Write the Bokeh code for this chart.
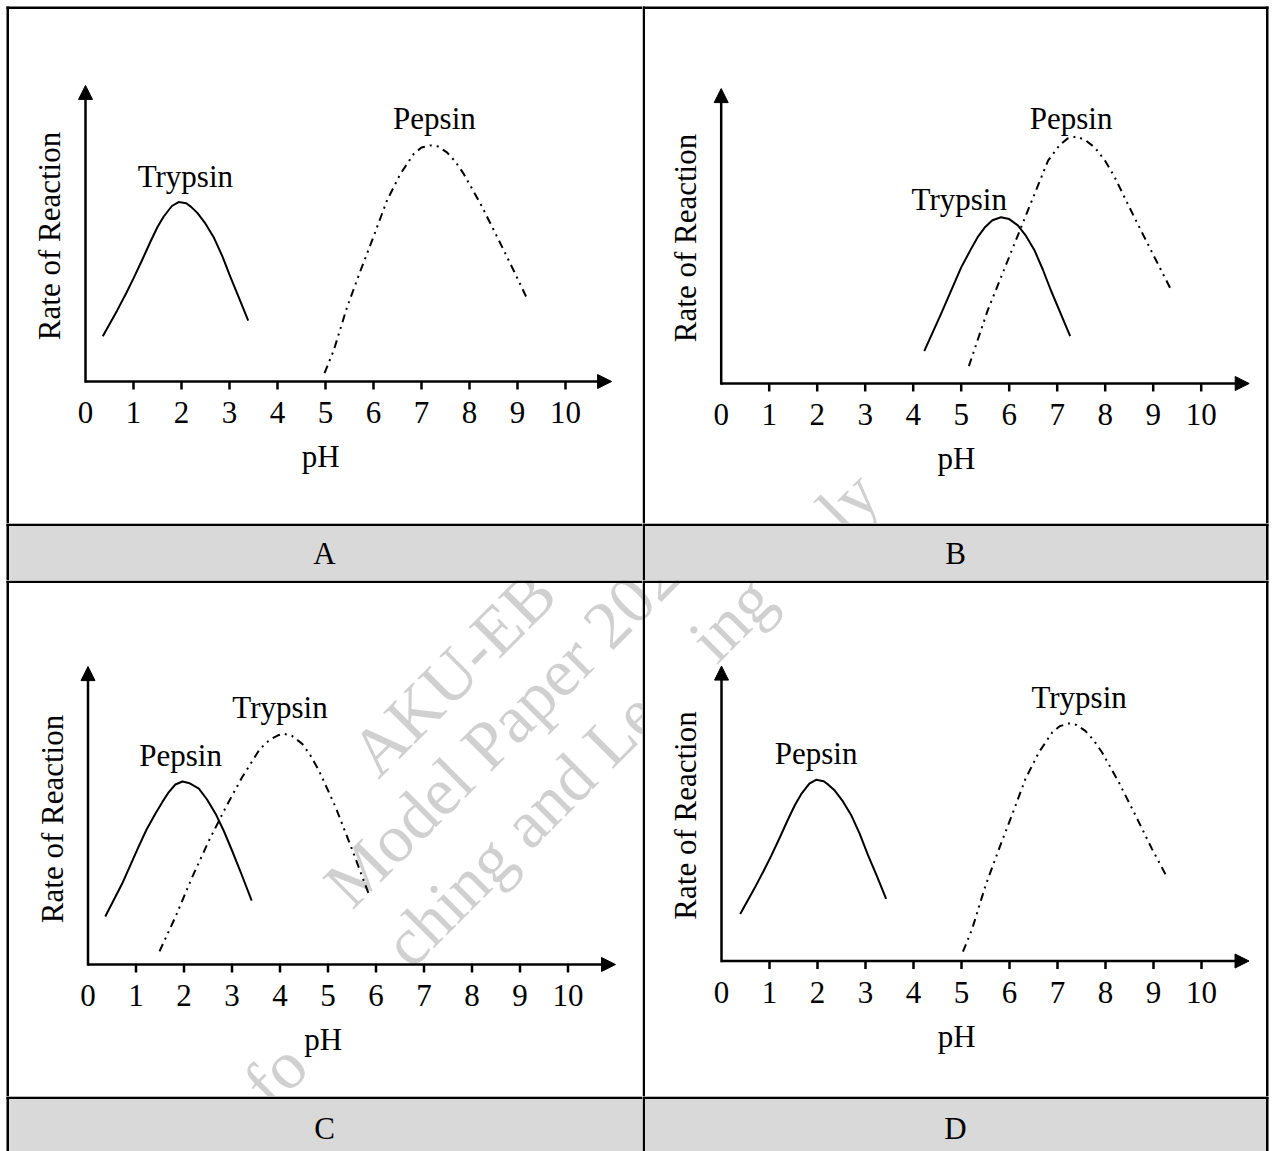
import math
from bokeh.plotting import figure
from bokeh.layouts import column, row
from bokeh.models import Range1d, Arrow, NormalHead
from bokeh.core.properties import value
from bokeh.embed import file_html
from bokeh.resources import INLINE

FONT = "Liberation Serif"

# ---------------- data ----------------
ph_ticks = [0, 1, 2, 3, 4, 5, 6, 7, 8, 9, 10]
tick_labels = ["0", "1", "2", "3", "4", "5", "6", "7", "8", "9", "10"]

# Panel A
a_trypsin_ph = [0.36, 0.66, 0.85, 1.01, 1.18, 1.35, 1.50, 1.63, 1.80, 1.94, 2.10, 2.20, 2.33, 2.50, 2.67, 2.85, 3.02, 3.20, 3.39]
a_trypsin_rate = [1.51, 2.37, 2.95, 3.47, 4.05, 4.65, 5.15, 5.50, 5.85, 5.98, 5.94, 5.82, 5.62, 5.26, 4.81, 4.18, 3.48, 2.78, 2.03]
a_pepsin_ph = [4.98, 5.17, 5.45, 5.73, 6.01, 6.28, 6.56, 6.84, 7.00, 7.19, 7.35, 7.53, 7.70, 7.88, 8.23, 8.58, 8.92, 9.20]
a_pepsin_rate = [0.28, 1.03, 2.48, 3.70, 4.87, 6.03, 6.92, 7.59, 7.80, 7.87, 7.83, 7.64, 7.34, 6.92, 5.92, 4.81, 3.70, 2.76]

# Panel B
b_trypsin_ph = [4.23, 4.58, 5.00, 5.20, 5.34, 5.50, 5.65, 5.83, 6.00, 6.18, 6.35, 6.53, 6.70, 6.87, 7.27]
b_trypsin_rate = [1.08, 2.32, 3.87, 4.47, 4.87, 5.22, 5.44, 5.54, 5.48, 5.27, 4.92, 4.43, 3.80, 3.10, 1.58]
b_pepsin_ph = [5.16, 5.55, 5.97, 6.39, 6.81, 7.05, 7.22, 7.40, 7.58, 7.78, 8.00, 8.20, 8.61, 9.03, 9.38]
b_pepsin_rate = [0.58, 2.43, 4.10, 5.77, 7.43, 7.95, 8.17, 8.23, 8.12, 7.87, 7.42, 6.87, 5.53, 4.20, 3.10]

# Panel C
c_pepsin_ph = [0.36, 0.71, 1.05, 1.22, 1.40, 1.55, 1.68, 1.82, 1.97, 2.12, 2.31, 2.48, 2.66, 2.83, 3.00, 3.20, 3.41]
c_pepsin_rate = [1.60, 2.69, 3.91, 4.50, 5.02, 5.42, 5.74, 6.00, 6.10, 6.04, 5.86, 5.50, 5.02, 4.45, 3.80, 3.00, 2.13]
c_trypsin_ph = [1.49, 1.82, 2.17, 2.52, 2.87, 3.21, 3.56, 3.70, 3.84, 3.96, 4.08, 4.25, 4.46, 4.63, 4.81, 5.16, 5.51, 5.86]
c_trypsin_rate = [0.44, 1.58, 2.91, 4.13, 5.24, 6.24, 7.13, 7.38, 7.54, 7.64, 7.69, 7.62, 7.36, 6.98, 6.47, 5.24, 3.80, 2.30]

# Panel D
d_pepsin_ph = [0.39, 0.69, 0.88, 1.04, 1.21, 1.38, 1.53, 1.66, 1.83, 1.97, 2.13, 2.23, 2.36, 2.53, 2.70, 2.88, 3.05, 3.24, 3.43]
d_pepsin_rate = [1.57, 2.43, 3.01, 3.52, 4.10, 4.70, 5.20, 5.56, 5.91, 6.04, 5.99, 5.87, 5.68, 5.32, 4.87, 4.24, 3.54, 2.82, 2.07]
d_trypsin_ph = [5.03, 5.22, 5.50, 5.78, 6.06, 6.33, 6.61, 6.89, 7.05, 7.24, 7.40, 7.58, 7.75, 7.93, 8.28, 8.63, 8.97, 9.28]
d_trypsin_rate = [0.31, 1.06, 2.51, 3.73, 4.90, 6.06, 6.95, 7.62, 7.83, 7.92, 7.87, 7.67, 7.37, 6.95, 5.95, 4.84, 3.73, 2.80]

# curve labels: (text, pH, rate)
a_labels = [("Trypsin", 2.08, 6.83), ("Pepsin", 7.27, 8.78)]
b_labels = [("Pepsin", 7.29, 8.82), ("Trypsin", 4.96, 6.15)]
c_labels = [("Trypsin", 4.00, 8.57), ("Pepsin", 1.93, 6.96)]
d_labels = [("Trypsin", 7.45, 8.78), ("Pepsin", 1.97, 6.93)]

panel_letters = ["A", "B", "C", "D"]

# watermark (three centred lines at 45 degrees, only the visible fragments)
wm_lines = ["AKU-EB", "Model Paper 2023", "for Teaching and Learning only"]
wm_line_em = [3.777, 6.888, 12.719]
wm_fragments = [  # (panel, line, em offset in line, text)
    ("C", 0, 0.08, "AKU-EB"),
    ("C", 1, 0.0, "Model Paper 2023"),
    ("D", 1, 0.0, "Model Paper 2023"),
    ("C", 2, 0.0, "fo"),
    ("C", 2, 2.915, "ching and Le"),
    ("D", 2, 9.26, "ing"),
    ("B", 2, 11.941, "ly"),
]

# ---------------- styling / geometry ----------------
PX_PH = 48.0      # pixels per pH unit
PX_RATE = 30.0    # pixels per rate unit
W_LEFT, W_RIGHT = 642, 630
H_TOP, H_BAR1, H_BOT, H_BAR2 = 523, 57, 516, 55
ORIGINS = {"A": (0, 0), "B": (642, 0), "C": (0, 580), "D": (642, 580)}
BORDER = "black"
GRAY = "#d9d9d9"
DASH = "8 5 2 5 2 5"
LW_B = 2.5
WM_SIZE = 68
WM_COLOR = "#d0d0d0"
WM_ALONG = -161.0
WM_OFFS = [818.0, 892.0, 976.0]


def base_fig(W, H, xr, yr, key=None):
    p = figure(width=W, height=H, x_range=xr, y_range=yr, min_border=0,
               toolbar_location=None, output_backend="svg",
               x_axis_location=None, y_axis_location=None)
    p.grid.visible = False
    p.outline_line_color = None
    p.background_fill_color = "white"
    p.border_fill_color = "white"
    p.extra_x_ranges = {"px": Range1d(0, W)}
    p.extra_y_ranges = {"py": Range1d(H, 0)}
    if key is not None:
        x0, y0 = ORIGINS[key]
        p.extra_x_ranges["wx"] = Range1d(x0, x0 + W)
        p.extra_y_ranges["wy"] = Range1d(y0 + H, y0)
    return p


def rect_px(p, l, r, t, b, color):
    p.quad(left=[l], right=[r], top=[t], bottom=[b], fill_color=color,
           line_color=None, x_range_name="px", y_range_name="py")


def borders(p, W, H, right_col, top_off):
    if right_col:
        x0, x1 = 0, 626
        rect_px(p, 0, LW_B, top_off, H, BORDER)
        rect_px(p, 626 - LW_B, 626, top_off, H, BORDER)
    else:
        x0, x1 = 6, W
        rect_px(p, 6, 6 + LW_B, top_off, H, BORDER)
    rect_px(p, x0, x1, top_off, top_off + LW_B, BORDER)


def watermark(p, key):
    c = math.sqrt(0.5)
    for k, line, em, txt in wm_fragments:
        if k != key:
            continue
        off = WM_OFFS[line] - 0.33 * WM_SIZE
        along = WM_ALONG - wm_line_em[line] * WM_SIZE / 2 + em * WM_SIZE
        x = c * (along + off)
        y = c * (off - along)
        p.text(x=[x], y=[y], text=[txt], angle=math.pi / 4, x_range_name="wx", y_range_name="wy",
               text_font=value(FONT), text_font_size=f"{WM_SIZE}px", text_color=WM_COLOR,
               text_align="left", text_baseline="alphabetic")


def chart(key, W, H, ox, oy, series, labels, right_col, xtip, ytip, top_off):
    xr = Range1d(-ox / PX_PH, (W - ox) / PX_PH)
    yr = Range1d(-(H - oy) / PX_RATE, oy / PX_RATE)
    p = base_fig(W, H, xr, yr, key)
    watermark(p, key)
    borders(p, W, H, right_col, top_off)

    head = dict(size=14, fill_color="black", line_color="black", line_width=1)
    p.add_layout(Arrow(end=NormalHead(**head), x_start=0, y_start=0, x_end=xtip, y_end=0,
                       line_width=2.5, line_color="black"))
    p.add_layout(Arrow(end=NormalHead(**head), x_start=0, y_start=-0.04, x_end=0, y_end=ytip,
                       line_width=2.5, line_color="black"))
    tk = ph_ticks[1:]
    p.segment(x0=tk, y0=[0] * len(tk), x1=tk, y1=[-8 / PX_RATE] * len(tk),
              line_color="black", line_width=2.5)
    p.text(x=ph_ticks, y=[0] * len(ph_ticks), text=tick_labels, y_offset=31,
           text_font=value(FONT), text_font_size="31px", text_align="center",
           text_baseline="alphabetic", text_color="black")
    p.text(x=[4.9], y=[0], text=["pH"], y_offset=75,
           text_font=value(FONT), text_font_size="31px", text_align="center",
           text_baseline="alphabetic", text_color="black")
    p.text(x=[0], y=[4.85], text=["Rate of Reaction"], x_offset=-36, angle=math.pi / 2,
           text_font=value(FONT), text_font_size="31px", text_align="center",
           text_baseline="middle", text_color="black")

    for xs, ys, solid in series:
        if solid:
            p.line(xs, ys, line_color="black", line_width=2, line_join="round")
        else:
            p.line(xs, ys, line_color="black", line_width=2, line_dash=DASH)

    for txt, lx, ly in labels:
        p.text(x=[lx], y=[ly], text=[txt], text_font=value(FONT), text_font_size="31px",
               text_align="center", text_baseline="alphabetic", text_color="black")
    return p


def bar(W, H, letter, right_col, baseline):
    p = base_fig(W, H, Range1d(0, W), Range1d(H, 0))
    x0, x1 = (0, 626) if right_col else (6, W)
    p.quad(left=[x0], right=[x1], top=[0], bottom=[H], fill_color=GRAY, line_color=None)
    borders(p, W, H, right_col, 0)
    cx = 313 if right_col else 324
    p.text(x=[cx], y=[baseline], text=[letter], text_font=value(FONT), text_font_size="31px",
           text_align="center", text_baseline="alphabetic", text_color="black")
    return p


pA = chart("A", W_LEFT, H_TOP, 85, 381,
           [(a_trypsin_ph, a_trypsin_rate, True), (a_pepsin_ph, a_pepsin_rate, False)],
           a_labels, False, 10.96, 9.87, 6)
pB = chart("B", W_RIGHT, H_TOP, 78.7, 383,
           [(b_trypsin_ph, b_trypsin_rate, True), (b_pepsin_ph, b_pepsin_rate, False)],
           b_labels, True, 11.0, 9.83, 6)
pC = chart("C", W_LEFT, H_BOT, 87.5, 384,
           [(c_pepsin_ph, c_pepsin_rate, True), (c_trypsin_ph, c_trypsin_rate, False)],
           c_labels, False, 10.99, 9.93, 0)
pD = chart("D", W_RIGHT, H_BOT, 79, 380.5,
           [(d_pepsin_ph, d_pepsin_rate, True), (d_trypsin_ph, d_trypsin_rate, False)],
           d_labels, True, 10.99, 9.83, 0)

bA = bar(W_LEFT, H_BAR1, panel_letters[0], False, 30)
bB = bar(W_RIGHT, H_BAR1, panel_letters[1], True, 30)
bC = bar(W_LEFT, H_BAR2, panel_letters[2], False, 32)
bD = bar(W_RIGHT, H_BAR2, panel_letters[3], True, 32)

layout = column(row(pA, pB), row(bA, bB), row(pC, pD), row(bC, bD))

open("out.html", "w").write(file_html(layout, INLINE))
